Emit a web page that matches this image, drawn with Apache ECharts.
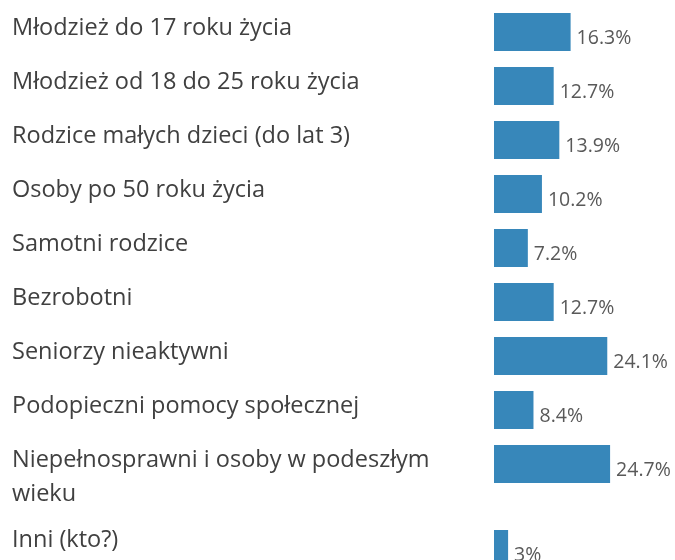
<!DOCTYPE html>
<html lang="pl">
  <head>
    <meta charset="UTF-8" />
    <title>Grupy docelowe</title>
    <script src="https://cdn.jsdelivr.net/npm/echarts@6.0.0/dist/echarts.min.js"></script>
    <style>
      body { margin: 0; background: #fff; }
    </style>
  </head>
  <body>
    <div id="chart" style="width: 675px; height: 560px"></div>

    <script>
      var categories = [
        "Młodzież do 17 roku życia",
        "Młodzież od 18 do 25 roku życia",
        "Rodzice małych dzieci (do lat 3)",
        "Osoby po 50 roku życia",
        "Samotni rodzice",
        "Bezrobotni",
        "Seniorzy nieaktywni",
        "Podopieczni pomocy społecznej",
        "Niepełnosprawni i osoby w podeszłym\nwieku",
        "Inni (kto?)",
      ]
      var values = [16.3, 12.7, 13.9, 10.2, 7.2, 12.7, 24.1, 8.4, 24.7, 3]

      // ostatni wiersz ma większy odstęp (zawinięta etykieta), więc osobny grid
      var mainCats = categories.slice(0, 9)
      var mainVals = values.slice(0, 9)
      var lastCats = categories.slice(9)
      var lastVals = values.slice(9)

      var chart = echarts.init(document.getElementById("chart"))

      var font = "'Open Sans', sans-serif"

      function yAxisFor(gridIndex, data, shift) {
        return {
          type: "category",
          gridIndex: gridIndex,
          data: data,
          inverse: true,
          axisLine: { show: false },
          axisTick: { show: false },
          axisLabel: {
            align: "left",
            verticalAlign: "top",
            margin: 482,
            // przesuwa pierwszą linię tekstu nieco nad środek słupka
            padding: [-shift, 0, 0, 0],
            fontFamily: font,
            fontSize: 23.5,
            lineHeight: 34,
            color: "#404040",
          },
        }
      }

      function xAxisFor(gridIndex) {
        return {
          type: "value",
          gridIndex: gridIndex,
          min: 0,
          max: 30,
          show: false,
        }
      }

      function barSeries(idx, data) {
        return {
          type: "bar",
          xAxisIndex: idx,
          yAxisIndex: idx,
          data: data,
          barWidth: 38,
          clip: false,
          itemStyle: { color: "#3787ba" },
          label: {
            show: true,
            position: "right",
            distance: 6,
            offset: [0, 6],
            formatter: "{c}%",
            fontFamily: font,
            fontSize: 19.5,
            color: "#595959",
          },
          animation: false,
        }
      }

      var option = {
        grid: [
          { left: 494, top: 5, width: 141, height: 486 },
          { left: 494, top: 538, width: 141, height: 22 },
        ],
        xAxis: [xAxisFor(0), xAxisFor(1)],
        yAxis: [yAxisFor(0, mainCats, 21), yAxisFor(1, lastCats, 26)],
        series: [barSeries(0, mainVals), barSeries(1, lastVals)],
      }

      chart.setOption(option)
    </script>
  </body>
</html>
